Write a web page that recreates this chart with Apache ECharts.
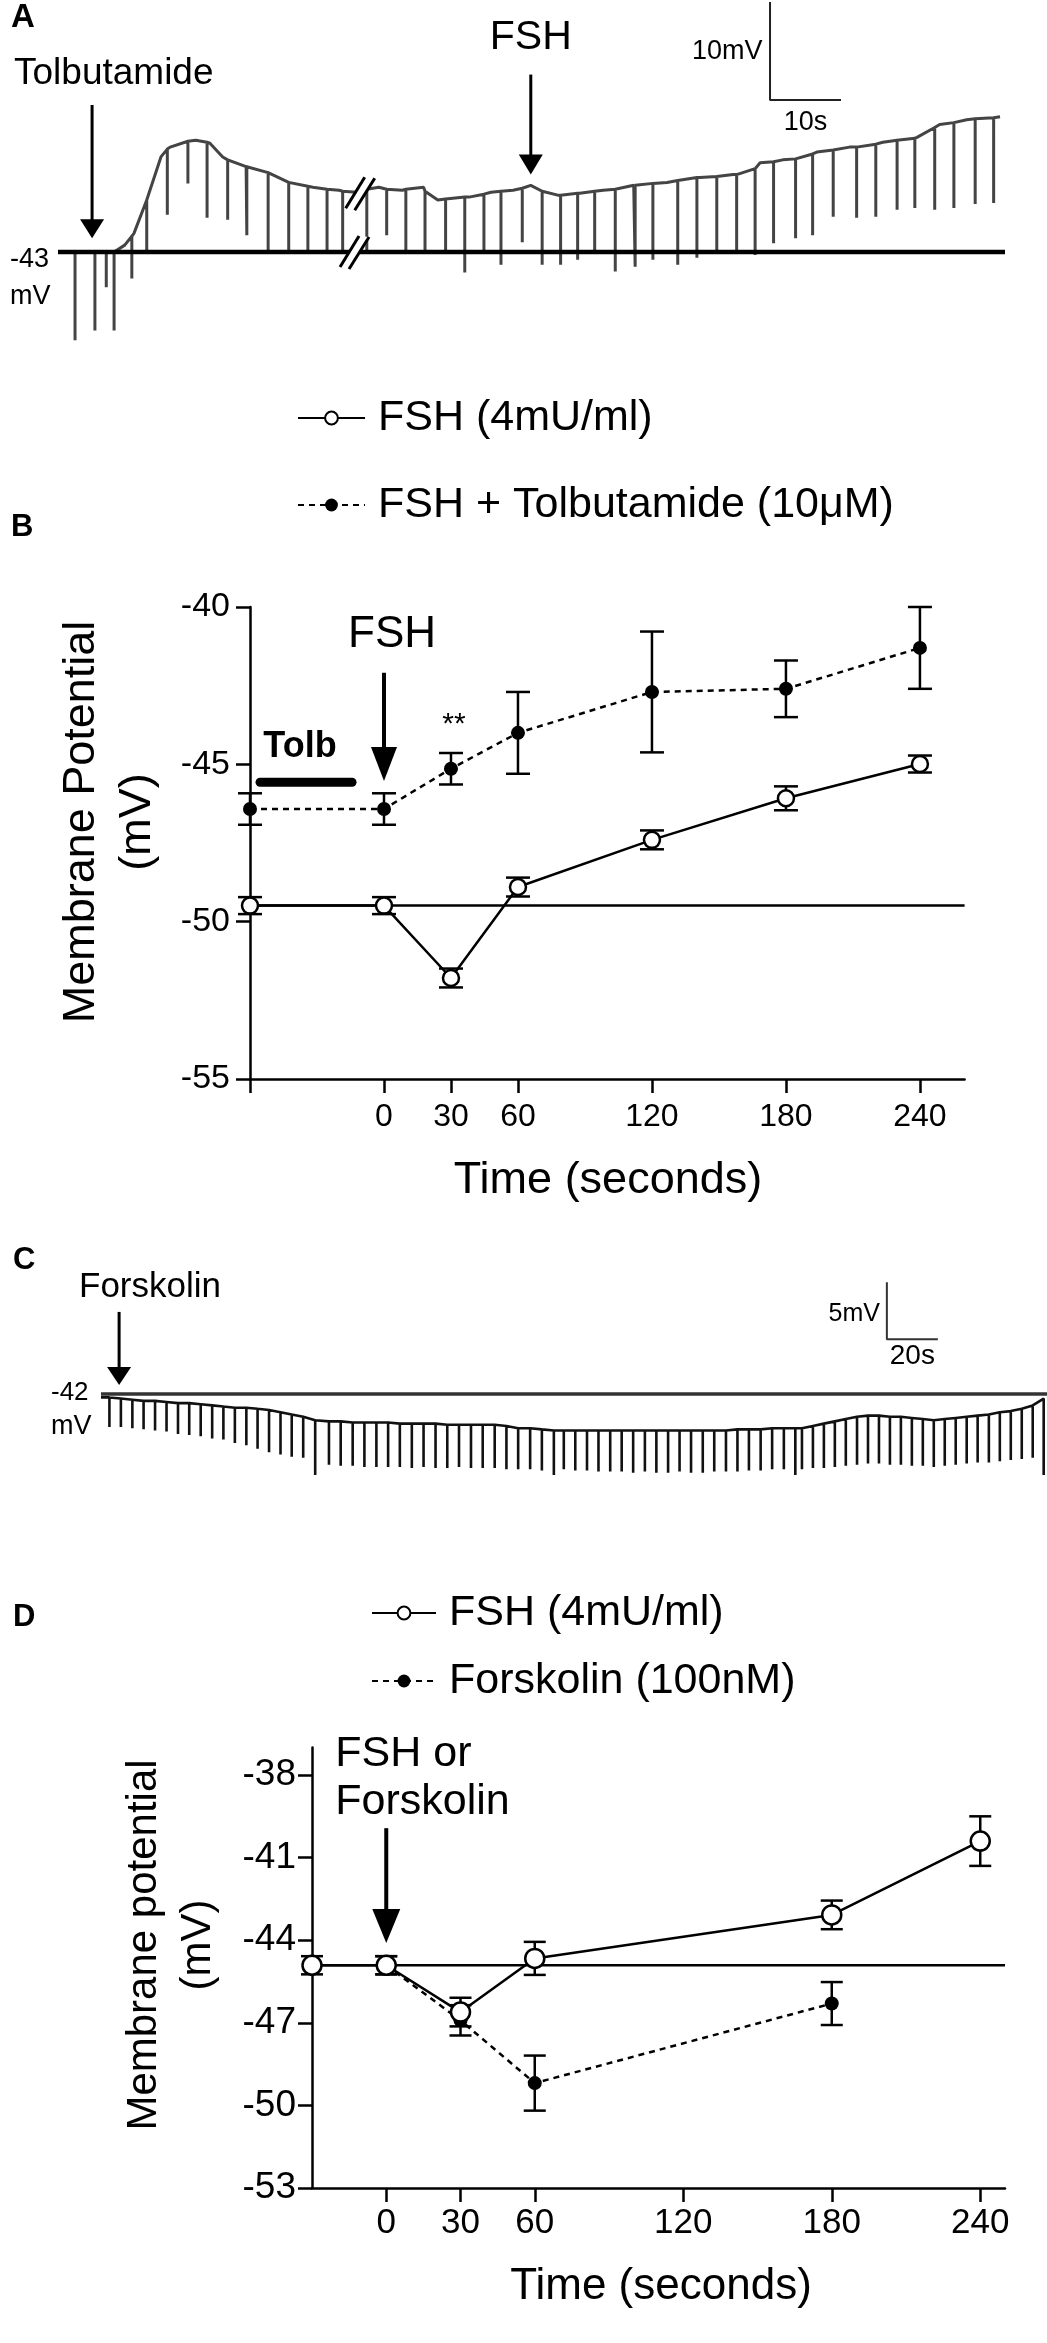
<!DOCTYPE html>
<html>
<head>
<meta charset="utf-8">
<script src="https://cdn.jsdelivr.net/npm/echarts@6/dist/echarts.min.js"></script>
<style>
  html, body { margin: 0; padding: 0; background: #fff; }
  #main { width: 1047px; height: 2343px; }
</style>
</head>
<body>
<div id="main"></div>
<script>
var FONT = '"Liberation Sans", Arial, Helvetica, sans-serif';

/** panel A: trace envelope and spikes (s, mV) **/
var aRest = -43;
var aEnvT = [0.3, 8.0, 9.4, 10.7, 12.5, 14.5, 15.8, 19.4, 21.4, 23.2, 26.5, 29.6, 32.7, 35.9, 39.6, 42.1, 45.2, 48.5, 51.5, 53.5, 57.9, 61.0, 64.1, 66.6, 70.4, 73.5, 76.8, 81.1, 85.8, 90.4, 95.1, 98.9, 102.1, 106.9, 111.5, 116.2, 121.0, 124.2, 128.0, 132.7];
var aEnvV = [-43.0, -43.0, -42.3, -41.1, -37.7, -33.3, -32.3, -31.6, -31.9, -33.3, -34.3, -34.9, -36.0, -36.4, -36.7, -36.9, -36.4, -36.7, -36.4, -37.7, -37.4, -36.9, -36.7, -36.2, -37.2, -37.0, -36.7, -36.2, -35.9, -35.4, -35.1, -33.9, -33.6, -32.8, -32.3, -31.8, -31.3, -30.0, -29.5, -29.2];
var aSpikeT = [2.4, 5.2, 6.8, 7.9, 10.4, 12.5, 15.4, 18.3, 21.0, 23.9, 26.6, 29.6, 32.5, 35.2, 37.9, 40.1, 43.5, 46.3, 49.0, 51.7, 54.6, 57.3, 60.0, 62.4, 65.4, 68.2, 70.8, 73.2, 75.6, 78.5, 81.3, 83.8, 87.3, 90.0, 92.8, 95.6, 98.2, 100.8, 103.9, 106.3, 109.2, 112.5, 115.2, 118.2, 120.7, 123.5, 126.2, 129.2, 131.8];
var aSpikeTop = [-43.0, -43.0, -43.0, -43.0, -41.4, -37.7, -32.5, -31.7, -31.8, -33.6, -34.3, -34.9, -35.9, -36.3, -36.6, -36.8, -36.6, -36.6, -36.6, -36.8, -37.6, -37.4, -37.1, -36.8, -36.5, -36.8, -37.2, -37.0, -36.8, -36.6, -36.2, -36.0, -35.7, -35.4, -35.3, -35.1, -34.5, -33.8, -33.5, -33.0, -32.6, -32.3, -32.0, -31.6, -31.4, -30.3, -29.8, -29.4, -29.3];
var aSpikeBot = [-52.0, -51.0, -46.6, -51.0, -45.7, -43.1, -39.2, -36.0, -39.5, -39.7, -41.3, -43.1, -43.1, -43.1, -43.1, -42.8, -42.8, -41.3, -43.1, -42.8, -43.1, -45.1, -42.8, -44.3, -42.0, -44.3, -44.3, -43.8, -43.1, -45.0, -44.5, -43.8, -44.3, -43.6, -42.8, -42.8, -43.3, -42.1, -41.6, -41.3, -39.4, -39.5, -39.4, -38.7, -38.5, -38.7, -38.5, -38.1, -38.0];
var aTolbT = 4.8, aFshT = 66.6;
var aBarT = 100.3, aBarV = -17.5, aBarMv = 10, aBarS = 10;

/** panel B: FSH vs FSH + tolbutamide **/
var bTime = [-60, 0, 30, 60, 120, 180, 240];
var bFsh = [-49.49, -49.49, -51.79, -48.90, -47.40, -46.08, -44.99];
var bFshErr = [0.27, 0.27, 0.30, 0.30, 0.30, 0.38, 0.27];
var bTolb = [-46.42, -46.42, -45.14, -44.00, -42.70, -42.60, -41.30];
var bTolbErr = [0.50, 0.50, 0.50, 1.30, 1.92, 0.90, 1.30];
var bTickT = [-60, 0, 30, 60, 120, 180, 240];
var bLabelT = [0, 30, 60, 120, 180, 240];
var bTickV = [-55, -50, -45, -40];
var bTolbBar = [-55.5, -14.3], bTolbBarV = -45.57;

/** panel C: forskolin trace (s, mV) **/
var cRest = -42;
var cEnvT = [0];
var cEnvV = [-42.3];
var cSpikeT = [3.3, 7.8, 12.3, 16.7, 21.2, 25.7, 30.2, 34.6, 39.1, 43.6, 48.0, 52.5, 57.0, 61.4, 65.9, 70.4, 74.8, 79.3, 84.0,
  89.4, 94.0, 98.7, 103.3, 108.0, 112.6, 117.2, 121.9, 126.5, 131.2, 135.8, 140.4, 145.1, 149.7, 154.4, 159.0, 163.6, 168.3, 172.9, 177.6,
  181.5, 186.0, 190.6, 195.1, 199.7, 204.2, 208.7, 213.3, 217.8, 222.4, 226.9, 231.4, 236.0, 240.5, 245.1, 249.6, 254.1, 258.7, 263.2, 267.8, 272.3,
  274.9, 279.2, 283.5, 287.8, 292.1, 296.5, 300.8, 305.1, 309.4, 313.7, 318.0, 322.3, 326.6, 330.9, 335.2, 339.5, 343.8, 348.2, 352.5, 356.8, 361.1, 365.4, 369.7];
var cSpikeTop = [-42.3, -42.4, -42.5, -42.6, -42.6, -42.7, -42.8, -42.8, -42.9, -43.0, -43.1, -43.2, -43.2, -43.3, -43.4, -43.6, -43.8, -44.0, -44.3,
  -44.4, -44.4, -44.5, -44.5, -44.5, -44.5, -44.6, -44.6, -44.6, -44.6, -44.7, -44.7, -44.7, -44.7, -44.7, -44.8, -45.0, -45.0, -45.1, -45.2,
  -45.2, -45.2, -45.2, -45.2, -45.2, -45.2, -45.2, -45.2, -45.2, -45.2, -45.2, -45.2, -45.2, -45.2, -45.2, -45.1, -45.1, -45.1, -45.0, -45.0, -45.0,
  -45.0, -44.8, -44.6, -44.4, -44.2, -44.0, -43.9, -43.9, -44.0, -44.0, -44.1, -44.2, -44.3, -44.2, -44.1, -44.0, -43.9, -43.8, -43.6, -43.5, -43.3, -43.0, -42.4];
var cSpikeBot = [-44.9, -44.9, -45.0, -45.1, -45.2, -45.3, -45.5, -45.6, -45.7, -45.9, -46.0, -46.3, -46.5, -46.8, -47.1, -47.3, -47.5, -47.6, -49.1,
  -48.2, -48.3, -48.3, -48.4, -48.4, -48.4, -48.4, -48.5, -48.4, -48.5, -48.5, -48.4, -48.5, -48.5, -48.5, -48.6, -48.6, -48.6, -48.7, -49.1,
  -48.6, -48.7, -48.7, -48.8, -48.8, -48.8, -48.9, -48.8, -48.9, -48.9, -48.8, -48.9, -48.9, -48.8, -48.8, -48.8, -48.7, -48.7, -48.6, -48.6, -49.1,
  -48.6, -48.5, -48.5, -48.4, -48.3, -48.2, -48.1, -48.1, -48.2, -48.2, -48.3, -48.3, -48.4, -48.3, -48.2, -48.1, -48.0, -48.0, -47.9, -47.8, -47.7, -47.6, -49.1];
var cFskT = 7.1;
var cBarT = 308.2, cBarV = -32.2, cBarMv = 5, cBarS = 20;

/** panel D: FSH vs forskolin **/
var dFshTime = [-30, 0, 30, 60, 180, 240];
var dFsh = [-44.91, -44.91, -46.61, -44.66, -43.08, -40.40];
var dFshErr = [0.33, 0.33, 0.52, 0.60, 0.52, 0.90];
var dFskTime = [0, 30, 60, 180];
var dFsk = [-44.91, -46.91, -49.19, -46.30];
var dFskErr = [0.33, 0.55, 1.00, 0.78];
var dTickT = [0, 30, 60, 120, 180, 240];
var dTickV = [-53, -50, -47, -44, -41, -38];

var NAME_FSH = 'FSH (4mU/ml)';
var NAME_TOLB = 'FSH + Tolbutamide (10\u03bcM)';
var NAME_FSK = 'Forskolin (100nM)';

/**合并包络和尖峰**/
function buildTrace(envT, envV, spT, spTop, spBot) {
  var parts = [];
  envT.forEach(function (t, i) { parts.push({t: t, pts: [[t, envV[i]]]}); });
  spT.forEach(function (t, i) {
    parts.push({t: t, pts: [[t, spTop[i]], [t, spBot[i]], [t, spTop[i]]]});
  });
  parts.sort(function (a, b) { return a.t - b.t; });
  var out = [];
  parts.forEach(function (p) { out = out.concat(p.pts); });
  return out;
}

function zip(xs, ys) { return xs.map(function (x, i) { return [x, ys[i]]; }); }
function zip3(xs, ys, es) { return xs.map(function (x, i) { return [x, ys[i], es[i]]; }); }

function errBars(cap) {
  return function (params, api) {
    var x = api.value(0), y = api.value(1), e = api.value(2);
    var hi = api.coord([x, y + e]), lo = api.coord([x, y - e]);
    var st = {stroke: '#000', lineWidth: 2.5};
    return {
      type: 'group',
      children: [
        {type: 'line', shape: {x1: hi[0], y1: hi[1], x2: lo[0], y2: lo[1]}, style: st},
        {type: 'line', shape: {x1: hi[0] - cap, y1: hi[1], x2: hi[0] + cap, y2: hi[1]}, style: st},
        {type: 'line', shape: {x1: lo[0] - cap, y1: lo[1], x2: lo[0] + cap, y2: lo[1]}, style: st}
      ]
    };
  };
}

function hiddenAxis(grid, min, max) {
  return {gridIndex: grid, type: 'value', min: min, max: max, show: false, splitLine: {show: false}};
}

var axisLine = {show: true, onZero: false, lineStyle: {color: '#000', width: 2.5}};

var chart = echarts.init(document.getElementById('main'));

chart.setOption({
  animation: false,
  backgroundColor: '#fff',
  grid: [
    {left: 58, top: 0, width: 947, height: 350},
    {left: 250, top: 607, width: 714.6, height: 472},
    {left: 101, top: 1280, width: 946, height: 205.2},
    {left: 312, top: 1747.5, width: 693, height: 440.5}
  ],
  xAxis: [
    hiddenAxis(0, 0, 133.4),
    {
      gridIndex: 1, type: 'value', min: -60, max: 260,
      axisLine: axisLine,
      axisTick: {show: true, customValues: bTickT, length: 14, lineStyle: {color: '#000', width: 2.5}},
      axisLabel: {customValues: bLabelT, fontSize: 32, color: '#000', fontFamily: FONT, margin: 22},
      splitLine: {show: false}
    },
    hiddenAxis(2, 0, 371),
    {
      gridIndex: 3, type: 'value', min: -30, max: 250,
      axisLine: axisLine,
      axisTick: {show: true, customValues: dTickT, length: 14, lineStyle: {color: '#000', width: 2.5}},
      axisLabel: {customValues: dTickT, fontSize: 35, color: '#000', fontFamily: FONT, margin: 18},
      splitLine: {show: false}
    }
  ],
  yAxis: [
    hiddenAxis(0, -53, -17.29),
    {
      gridIndex: 1, type: 'value', min: -55, max: -40,
      axisLine: axisLine,
      axisTick: {show: true, customValues: bTickV, length: 14, lineStyle: {color: '#000', width: 2.5}},
      axisLabel: {customValues: bTickV, fontSize: 34, color: '#000', fontFamily: FONT, margin: 20},
      splitLine: {show: false}
    },
    hiddenAxis(2, -50, -32),
    {
      gridIndex: 3, type: 'value', min: -53, max: -37,
      axisLine: axisLine,
      axisTick: {show: true, customValues: dTickV, length: 14, lineStyle: {color: '#000', width: 2.5}},
      axisLabel: {customValues: dTickV, fontSize: 37, color: '#000', fontFamily: FONT, margin: 16},
      splitLine: {show: false}
    }
  ],
  legend: [
    {
      data: [NAME_FSH, NAME_TOLB], orient: 'vertical', left: 292, top: 388,
      itemWidth: 67, itemHeight: 16, itemGap: 37, selectedMode: false,
      textStyle: {fontSize: 43, lineHeight: 50, color: '#000', fontFamily: FONT, padding: [0, 0, 0, 8]}
    },
    {
      data: [NAME_FSH, NAME_FSK], orient: 'vertical', left: 366, top: 1583,
      itemWidth: 64, itemHeight: 16, itemGap: 18, selectedMode: false,
      textStyle: {fontSize: 43, lineHeight: 50, color: '#000', fontFamily: FONT, padding: [0, 0, 0, 8]}
    }
  ],
  series: [
    // A
    {
      type: 'line', xAxisIndex: 0, yAxisIndex: 0, showSymbol: false, z: 3,
      data: buildTrace(aEnvT, aEnvV, aSpikeT, aSpikeTop, aSpikeBot),
      lineStyle: {color: '#444', width: 3}
    },
    {
      type: 'line', xAxisIndex: 0, yAxisIndex: 0, showSymbol: false, z: 4,
      data: [[0, aRest], [133.4, aRest]], lineStyle: {color: '#000', width: 4.5}
    },
    {
      type: 'line', xAxisIndex: 0, yAxisIndex: 0, showSymbol: false, z: 4,
      data: [[aBarT, aBarV], [aBarT, aBarV - aBarMv], [aBarT + aBarS, aBarV - aBarMv]],
      lineStyle: {color: '#222', width: 2}
    },
    // B
    {
      type: 'line', xAxisIndex: 1, yAxisIndex: 1, showSymbol: false, z: 2,
      data: [[-60, bFsh[0]], [260, bFsh[0]]], lineStyle: {color: '#000', width: 2.5}
    },
    {
      type: 'line', xAxisIndex: 1, yAxisIndex: 1, showSymbol: false, z: 2,
      data: [[bTolbBar[0], bTolbBarV], [bTolbBar[1], bTolbBarV]],
      lineStyle: {color: '#000', width: 9, cap: 'round'}
    },
    {type: 'custom', xAxisIndex: 1, yAxisIndex: 1, z: 3, renderItem: errBars(12), data: zip3(bTime, bFsh, bFshErr)},
    {type: 'custom', xAxisIndex: 1, yAxisIndex: 1, z: 3, renderItem: errBars(12), data: zip3(bTime, bTolb, bTolbErr)},
    {
      name: NAME_TOLB, type: 'line', xAxisIndex: 1, yAxisIndex: 1, z: 5,
      data: zip(bTime, bTolb), symbol: 'circle', symbolSize: 14,
      itemStyle: {color: '#000'}, lineStyle: {color: '#000', width: 2.5, type: [6, 5]}
    },
    {
      name: NAME_FSH, type: 'line', xAxisIndex: 1, yAxisIndex: 1, z: 5,
      data: zip(bTime, bFsh), symbol: 'circle', symbolSize: 16,
      itemStyle: {color: '#fff', borderColor: '#000', borderWidth: 2.5}, lineStyle: {color: '#000', width: 2.5}
    },
    // C
    {
      type: 'line', xAxisIndex: 2, yAxisIndex: 2, showSymbol: false, z: 3,
      data: buildTrace(cEnvT, cEnvV, cSpikeT, cSpikeTop, cSpikeBot),
      lineStyle: {color: '#111', width: 2.6}
    },
    {
      type: 'line', xAxisIndex: 2, yAxisIndex: 2, showSymbol: false, z: 4,
      data: [[0, cRest], [371, cRest]], lineStyle: {color: '#333', width: 3.5}
    },
    {
      type: 'line', xAxisIndex: 2, yAxisIndex: 2, showSymbol: false, z: 4,
      data: [[cBarT, cBarV], [cBarT, cBarV - cBarMv], [cBarT + cBarS, cBarV - cBarMv]],
      lineStyle: {color: '#333', width: 2}
    },
    // D
    {
      type: 'line', xAxisIndex: 3, yAxisIndex: 3, showSymbol: false, z: 2,
      data: [[-30, dFsh[0]], [250, dFsh[0]]], lineStyle: {color: '#000', width: 2.5}
    },
    {type: 'custom', xAxisIndex: 3, yAxisIndex: 3, z: 3, renderItem: errBars(11), data: zip3(dFskTime, dFsk, dFskErr)},
    {type: 'custom', xAxisIndex: 3, yAxisIndex: 3, z: 3, renderItem: errBars(11), data: zip3(dFshTime, dFsh, dFshErr)},
    {
      name: NAME_FSK, type: 'line', xAxisIndex: 3, yAxisIndex: 3, z: 5,
      data: zip(dFskTime, dFsk), symbol: 'circle', symbolSize: 14,
      itemStyle: {color: '#000'}, lineStyle: {color: '#000', width: 2.5, type: [6, 5]}
    },
    {
      name: NAME_FSH, type: 'line', xAxisIndex: 3, yAxisIndex: 3, z: 6,
      data: zip(dFshTime, dFsh), symbol: 'circle', symbolSize: 19,
      itemStyle: {color: '#fff', borderColor: '#000', borderWidth: 2.5}, lineStyle: {color: '#000', width: 2.5}
    }
  ]
});

/**注释: 箭头, 文字, 断线符号**/
function px(g, p) { return chart.convertToPixel({gridIndex: g}, p); }

function text(x, y, s, size, opt) {
  opt = opt || {};
  return {
    type: 'text', x: x, y: y, rotation: opt.rotation || 0, z: 10,
    style: {
      text: s, fill: '#000',
      font: (opt.bold ? 'bold ' : '') + size + 'px ' + FONT,
      textAlign: opt.align || 'left', textVerticalAlign: 'middle',
      lineHeight: opt.lineHeight || size * 1.2
    }
  };
}
function dataText(g, p, s, size, opt) {
  var q = px(g, p);
  return text(q[0], q[1], s, size, opt);
}
function arrow(g, t, v0, v1, head, half, w) {
  var a = px(g, [t, v0]), b = px(g, [t, v1]);
  return [
    {type: 'line', z: 10, shape: {x1: a[0], y1: a[1], x2: b[0], y2: b[1] - head + 2}, style: {stroke: '#000', lineWidth: w}},
    {type: 'polygon', z: 10, shape: {points: [[b[0] - half, b[1] - head], [b[0] + half, b[1] - head], [b[0], b[1]]]}, style: {fill: '#000'}}
  ];
}
function breakMark(g, p) {
  var c = px(g, p), x = c[0], y = c[1];
  var l1 = [[x - 14, y + 15], [x + 5, y - 16]], l2 = [[x - 5, y + 17], [x + 15, y - 15]];
  return [
    {type: 'polygon', z: 11, shape: {points: [l1[0], l1[1], l2[1], l2[0]]}, style: {fill: '#fff'}},
    {type: 'line', z: 12, shape: {x1: l1[0][0], y1: l1[0][1], x2: l1[1][0], y2: l1[1][1]}, style: {stroke: '#000', lineWidth: 3}},
    {type: 'line', z: 12, shape: {x1: l2[0][0], y1: l2[0][1], x2: l2[1][0], y2: l2[1][1]}, style: {stroke: '#000', lineWidth: 3}}
  ];
}

var els = [];
// A
els.push(text(11, 18, 'A', 33, {bold: true}));
els.push(text(14, 74, 'Tolbutamide', 37));
els.push(dataText(0, [aFshT, -21.1], 'FSH', 41, {align: 'center'}));
els = els.concat(arrow(0, aTolbT, -28.0, -41.6, 19, 12, 3));
els = els.concat(arrow(0, aFshT, -24.9, -35.1, 20, 12, 3));
els.push(text(10, 260, '-43', 27));
els.push(text(10, 297, 'mV', 27));
els.push(dataText(0, [aBarT, aBarV - aBarMv / 2], '10mV ', 27, {align: 'right'}));
els.push(dataText(0, [aBarT + aBarS / 2, aBarV - aBarMv - 2.3], '10s', 27, {align: 'center'}));
els = els.concat(breakMark(0, [42.5, -37.0]));
els = els.concat(breakMark(0, [41.7, aRest]));
// B
els.push(text(11, 527, 'B', 31, {bold: true}));
els.push(dataText(1, [3.6, -40.89], 'FSH', 44, {align: 'center'}));
els = els.concat(arrow(1, 0, -42.09, -45.53, 34, 13, 4));
els.push(dataText(1, [-37.6, -44.44], 'Tolb', 36, {bold: true, align: 'center'}));
els.push(dataText(1, [31.3, -43.75], '**', 30, {align: 'center'}));
els.push(text(110, 822, 'Membrane Potential\n(mV)', 45, {align: 'center', rotation: Math.PI / 2, lineHeight: 56}));
els.push(text(608, 1181, 'Time (seconds)', 45, {align: 'center'}));
// C
els.push(text(13, 1260, 'C', 31, {bold: true}));
els.push(text(79, 1287, 'Forskolin', 35));
els = els.concat(arrow(2, cFskT, -34.8, -41.2, 18, 12, 3));
els.push(text(51, 1393, '-42', 26));
els.push(text(51, 1427, 'mV', 27));
els.push(dataText(2, [cBarT, cBarV - cBarMv / 2 - 0.3], '5mV ', 25, {align: 'right'}));
els.push(dataText(2, [cBarT + cBarS / 2, cBarV - cBarMv - 1.5], '20s', 28, {align: 'center'}));
// D
els.push(text(13, 1617, 'D', 31, {bold: true}));
els.push(dataText(3, [-20.6, -37.24], 'FSH or', 43));
els.push(dataText(3, [-20.6, -38.98], 'Forskolin', 43));
els = els.concat(arrow(3, 0, -39.93, -44.10, 34, 14, 4));
els.push(text(171, 1945, 'Membrane potential\n(mV)', 42, {align: 'center', rotation: Math.PI / 2, lineHeight: 54}));
els.push(text(661, 2287, 'Time (seconds)', 44, {align: 'center'}));

chart.setOption({graphic: els});
</script>
</body>
</html>
